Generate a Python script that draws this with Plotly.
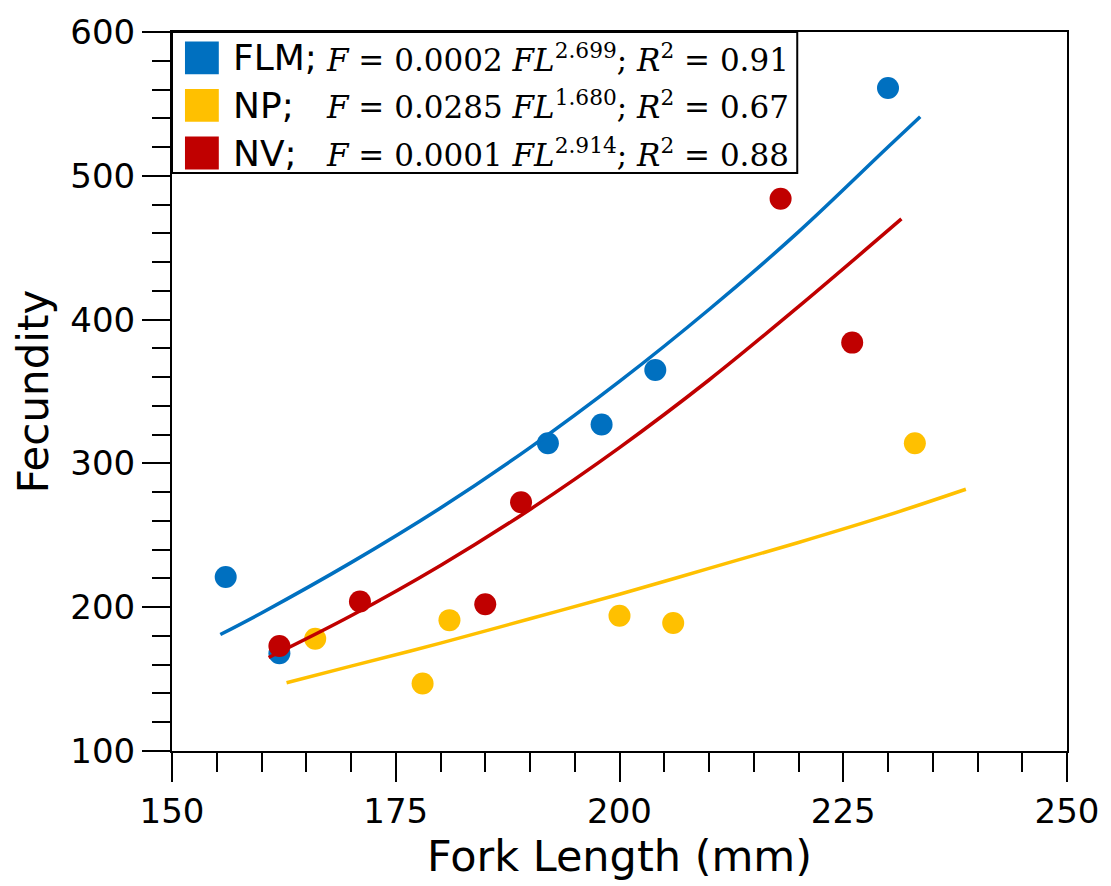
import plotly.graph_objects as go

# ---- data ----
series = ["FLM", "NP", "NV"]
colors = ["#0070C0", "#FFC000", "#C00000"]

flm_x = [156, 162, 192, 198, 204, 230]
flm_y = [221, 168, 314, 327, 365, 561]
np_x = [166, 178, 181, 200, 206, 233]
np_y = [178, 147, 191, 194, 189, 314]
nv_x = [162, 171, 185, 189, 218, 226]
nv_y = [173, 204, 202, 273, 484, 384]

# fitted power curves
flm_fit_x = [155.4, 160, 170, 180, 190, 200, 210, 220, 230, 233.6]
flm_fit_y = [181, 196, 231, 269, 311, 357, 407, 461, 520, 541]
np_fit_x = [162.8, 170, 180, 190, 200, 210, 220, 230, 238.7]
np_fit_y = [147.5, 159, 175, 192, 209, 227, 245, 264, 282]
nv_fit_x = [160.8, 170, 180, 190, 200, 210, 220, 231.5]
nv_fit_y = [165, 194, 229, 268, 311, 358, 409, 470]

labels = ["FLM;", "NP;", "NV;"]
equations = [
    "<i>F</i> = 0.0002 <i>FL</i><sup>2.699</sup>; <i>R</i><sup>2</sup> = 0.91",
    "<i>F</i> = 0.0285 <i>FL</i><sup>1.680</sup>; <i>R</i><sup>2</sup> = 0.67",
    "<i>F</i> = 0.0001 <i>FL</i><sup>2.914</sup>; <i>R</i><sup>2</sup> = 0.88",
]

x_title = "Fork Length (mm)"
y_title = "Fecundity"
x_ticks = [150, 175, 200, 225, 250]
y_ticks = [100, 200, 300, 400, 500, 600]

pts = [(flm_x, flm_y), (np_x, np_y), (nv_x, nv_y)]
fits = [(flm_fit_x, flm_fit_y), (np_fit_x, np_fit_y), (nv_fit_x, nv_fit_y)]

fig = go.Figure()
for name, col, (px, py), (fx, fy) in zip(series, colors, pts, fits):
    fig.add_trace(go.Scatter(x=px, y=py, mode="markers", name=name,
                             marker=dict(color=col, size=22, line=dict(width=0)),
                             showlegend=False))
    fig.add_trace(go.Scatter(x=fx, y=fy, mode="lines", name=name + " fit",
                             line=dict(color=col, width=3.5, shape="spline"),
                             showlegend=False))

# legend box (manual, to match the reference's large square keys)
shapes = [dict(type="rect", xref="paper", yref="paper", x0=0, x1=0.6986,
               y0=0.804, y1=1, line=dict(color="black", width=2),
               fillcolor="white", layer="below")]
annotations = []
row_y = [0.9641, 0.8979, 0.8317]
for col, lab, eq, yy in zip(colors, labels, equations, row_y):
    shapes.append(dict(type="rect", xref="paper", yref="paper",
                       x0=0.0145, x1=0.0523, y0=yy - 0.0228, y1=yy + 0.0228,
                       line=dict(width=0), fillcolor=col, layer="above"))
    annotations.append(dict(xref="paper", yref="paper", x=0.0656, y=yy,
                            xanchor="left", yanchor="middle", text=lab,
                            showarrow=False,
                            font=dict(family="DejaVu Sans", size=36, color="black")))
    annotations.append(dict(xref="paper", yref="paper", x=0.1702, y=yy,
                            xanchor="left", yanchor="middle", text=eq,
                            showarrow=False,
                            font=dict(family="DejaVu Serif", size=31, color="black")))

axis_common = dict(showgrid=False, zeroline=False, showline=True,
                   linecolor="black", linewidth=2, mirror=True,
                   ticks="outside", tickwidth=2, tickcolor="black",
                   tickfont=dict(family="DejaVu Sans", size=34, color="black"))

fig.update_layout(
    width=1111, height=886,
    margin=dict(l=172, r=40, t=26, b=135),
    paper_bgcolor="white", plot_bgcolor="white",
    shapes=shapes, annotations=annotations,
    xaxis=dict(range=[150, 250], tickvals=x_ticks, ticklen=29,
               minor=dict(dtick=5, tick0=150, ticks="outside", ticklen=19,
                          tickwidth=2, tickcolor="black", showgrid=False),
               title=dict(text=x_title,
                          font=dict(family="DejaVu Sans", size=43, color="black"),
                          standoff=0),
               **axis_common),
    yaxis=dict(range=[100, 600], tickvals=y_ticks, ticklen=28,
               minor=dict(dtick=20, tick0=100, ticks="outside", ticklen=18,
                          tickwidth=2, tickcolor="black", showgrid=False),
               title=dict(text=y_title,
                          font=dict(family="DejaVu Sans", size=42, color="black"),
                          standoff=9),
               **axis_common),
)

fig.write_html("out.html")
